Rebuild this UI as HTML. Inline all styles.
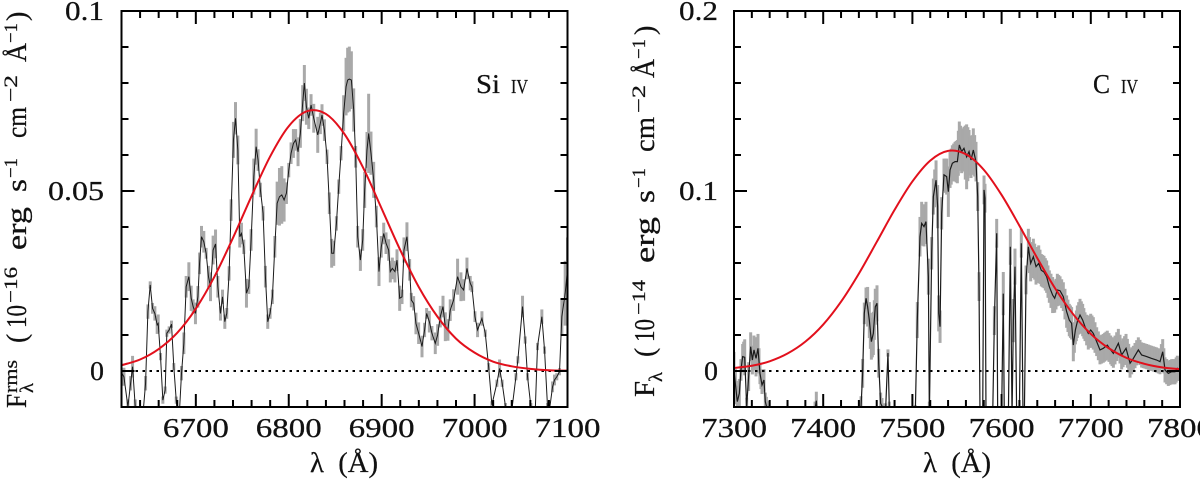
<!DOCTYPE html>
<html lang="en">
<head>
<meta charset="utf-8">
<title>Si IV and C IV line profiles</title>
<style>
html,body{margin:0;padding:0;background:#fff;width:1200px;height:480px;overflow:hidden}
svg{display:block}
text{font-family:"Liberation Serif",serif;fill:#111;stroke:#111;stroke-width:0.25px}
</style>
</head>
<body>
<svg id="chart" width="1200" height="480" viewBox="0 0 1200 480" xmlns="http://www.w3.org/2000/svg">
<defs>
<clipPath id="clipL"><rect x="121.5" y="11" width="446" height="396"/></clipPath>
<clipPath id="clipR"><rect x="734" y="11" width="446" height="396"/></clipPath>
</defs>
<g id="panelL"></g>
<g id="panelR"></g>

<g transform="translate(26,408) rotate(-90)">
<text x="0" y="0" font-size="28" textLength="14" lengthAdjust="spacingAndGlyphs">F</text>
<text x="15" y="-9" font-size="19" textLength="33" lengthAdjust="spacingAndGlyphs">rms</text>
<text x="15" y="7" font-size="19" textLength="10" lengthAdjust="spacingAndGlyphs">λ</text>
<text x="65" y="0" font-size="28">(</text>
<text x="80" y="0" font-size="28" textLength="23" lengthAdjust="spacingAndGlyphs">10</text>
<text x="105" y="-9" font-size="19" textLength="36" lengthAdjust="spacingAndGlyphs">−16</text>
<text x="158" y="0" font-size="28" textLength="43" lengthAdjust="spacingAndGlyphs">erg</text>
<text x="216" y="0" font-size="28" textLength="13" lengthAdjust="spacingAndGlyphs">s</text>
<text x="230" y="-9" font-size="19" textLength="20" lengthAdjust="spacingAndGlyphs">−1</text>
<text x="270" y="0" font-size="28" textLength="31" lengthAdjust="spacingAndGlyphs">cm</text>
<text x="306" y="-9" font-size="19" textLength="27" lengthAdjust="spacingAndGlyphs">−2</text>
<text x="346" y="0" font-size="28" textLength="19" lengthAdjust="spacingAndGlyphs">Å</text>
<text x="365" y="-9" font-size="19" textLength="20" lengthAdjust="spacingAndGlyphs">−1</text>
<text x="387" y="0" font-size="28">)</text>
</g>

<g transform="translate(654,397) rotate(-90)">
<text x="0" y="0" font-size="28" textLength="16" lengthAdjust="spacingAndGlyphs">F</text>
<text x="15" y="8" font-size="19" textLength="10" lengthAdjust="spacingAndGlyphs">λ</text>
<text x="40" y="0" font-size="28">(</text>
<text x="55" y="0" font-size="28" textLength="23" lengthAdjust="spacingAndGlyphs">10</text>
<text x="82" y="-9" font-size="19" textLength="35" lengthAdjust="spacingAndGlyphs">−14</text>
<text x="134" y="0" font-size="28" textLength="46" lengthAdjust="spacingAndGlyphs">erg</text>
<text x="194" y="0" font-size="28" textLength="13" lengthAdjust="spacingAndGlyphs">s</text>
<text x="209" y="-9" font-size="19" textLength="20" lengthAdjust="spacingAndGlyphs">−1</text>
<text x="245" y="0" font-size="28" textLength="35" lengthAdjust="spacingAndGlyphs">cm</text>
<text x="284" y="-9" font-size="19" textLength="28" lengthAdjust="spacingAndGlyphs">−2</text>
<text x="319" y="0" font-size="28" textLength="19" lengthAdjust="spacingAndGlyphs">Å</text>
<text x="338" y="-9" font-size="19" textLength="20" lengthAdjust="spacingAndGlyphs">−1</text>
<text x="362" y="0" font-size="28">)</text>
</g>

<text x="310" y="472" font-size="28" textLength="68" lengthAdjust="spacingAndGlyphs" xml:space="preserve">λ  (Å)</text>
<text x="923" y="472" font-size="28" textLength="68" lengthAdjust="spacingAndGlyphs" xml:space="preserve">λ  (Å)</text>

<text x="476" y="93" font-size="27" textLength="24" lengthAdjust="spacingAndGlyphs">Si</text>
<text x="511" y="93" font-size="20" textLength="17" lengthAdjust="spacingAndGlyphs">IV</text>
<text x="1093" y="93" font-size="27" textLength="17" lengthAdjust="spacingAndGlyphs">C</text>
<text x="1121" y="93" font-size="20" textLength="17" lengthAdjust="spacingAndGlyphs">IV</text>
</svg>

<script>
/* Si IV rms spectrum: wavelength (Angstrom), flux and error (units of 1e-16 scale, times 1000) */
var siWave = [
6619,6622.6,6626.9,6629.8,6631.9,6634.8,6636.9,6642.3,6645.9,6648.4,
6650.9,6653.4,6655.9,6658.4,6659.5,6662,6664.5,6667,6668.8,6671.3,
6673.8,6676.3,6678.9,6681.7,6684.6,6687.1,6689.6,6692.5,6695,6697.1,
6699.6,6702.2,6704,6706.1,6708.6,6711.1,6713.6,6715.8,6718.6,6721.2,
6723.7,6726.5,6728.7,6731.2,6733.3,6735.8,6738,6740.5,6742.7,6745.2,
6747.3,6749.1,6751.6,6754.5,6757,6759.5,6762.4,6764.9,6767,6769.5,
6772.4,6774.9,6777.4,6779.9,6782.4,6785,6787.5,6790,6792.5,6795,
6797.5,6800,6802.5,6805,6807.5,6810,6812.5,6815,6816.8,6819,
6821.5,6824,6826.9,6831.2,6834,6835.8,6838.4,6841.2,6843.7,6846.2,
6848.4,6851.3,6853.8,6856.3,6859.1,6861.7,6863.4,6865.2,6867.4,6869.9,
6872,6874.2,6877.1,6879.6,6881.7,6884.2,6886,6888.5,6891.4,6894.3,
6897.1,6899.6,6902.2,6904.7,6907.5,6909.3,6911.5,6914.3,6916.5,6919.4,
6921.9,6924,6927.2,6930.1,6931.9,6934.4,6936.9,6939.8,6943.4,6946.2,
6948.4,6951.3,6954.1,6957.7,6960.2,6963.1,6966,6968.5,6971.3,6973.8,
6977.4,6981.7,6985.3,6988.2,6991.8,6995.3,6997.1,7000.4,7003.2,7007.9,
7011.5,7015.1,7018.6,7024,7026.9,7029.7,7033.3,7036.6,7040.1,7044.5,
7046.6,7051.6,7054.5,7057,7060.6,7065.2,7067.7,7072.4,7075.3,7078.5,
7080.6,7083.9,7086,7088.5,7091.4,7093.9,7097.5,7100];
var siFlux = [
0,-1.6,-9.9,-3.4,1.2,-9.9,-13.6,-14.5,-3.4,16.5,
23.9,17.4,16,12.8,13.2,4,-8.1,-5.3,10.5,11.4,
13,1.2,-8.1,-14.5,-0.6,7.7,23.4,26.2,20.2,17.9,
16,20.6,29.9,37.3,35.9,32.7,26.2,23.4,33.6,35.3,
23.4,16,20.6,13.7,16,27.1,44.7,64.2,70.2,61.4,
37.3,38.2,34.5,21.6,23.4,36.4,54,62.3,58.6,50.3,
43.8,26.2,13.7,16,20.6,34.5,46.6,48.4,48.9,47.5,
49.4,55.8,60.5,63.2,64.2,60.9,66,74.4,80,73.4,
70.2,73.9,70.2,65.6,68.8,71.1,66.9,59.5,46.6,32.7,
32.7,41,51.2,60.5,71.6,79,80.8,81.1,80.8,72.5,
59.5,37.3,30.8,36.4,50.3,61.4,66,60.5,53.1,42.9,
27.6,34.5,38.2,35.5,33.6,27.6,28.5,27.6,30.8,20.2,
20.6,33.6,37.3,28.1,19.7,18.8,13.2,10.5,6.8,11.4,
16,13.7,10.5,7.7,10,15.1,17.9,12.3,11.4,16.9,
19.7,26.2,23.4,22.5,28.5,24.4,23.4,15.1,11.4,14.6,
10.5,1.2,-9.4,-3.4,0.7,-3.4,-9.9,-14.5,-10.8,-1.6,
3.1,17.9,8.6,-1.6,-9.9,-11.8,6.8,15.1,5.8,-9.9,
-10.8,-4.4,-2.5,-1.6,-0.2,15.1,21.6,28.1];
var siErr = [
3.5,2.5,2,2,3,2,1,1,2,2,
1,1.5,2,2.5,2.5,1,1,1,1,1,
1,1,1,1,2,3,3,4,3.5,2,
3,3,3,3,3,1.5,3,4,4,4,
3,2,2,2,1.5,2,3,5,4.5,4,
3,3,2,4,2,3,5,5,3,2,
2,3,2,1.5,2,3,6,8,8,6,
3,2,3,4,3,4,4,5,5,5,
3,3,4,5,3,3,3,2,3,4,
3.5,2,2,2,5,8,9,9,8,6,
3,3,3,3,5,5,11,6,5,3,
4,3,3,3,3,3,3,3,3,3.5,
2,3.5,4,3,2,2,3,3,3,2,
1.5,3,2,3,3,3,3,4,3,3,
3,5,4,3,3,2,1.5,1.5,2,2,
1,1,1,1,2.5,1,1,1,1,1,
1,3,1,1,1,1,1,2,1,1,
1,1.5,1.5,1,1,5,9,9];
var siFitWave = [6620,6640,6660,6680,6700,6720,6740,6760,6780,6800,6820,6840,6860,6880,6900,6920,6940,6960,6980,7000,7020,7040,7060,7080,7100];
var siFitFlux = [1.6,3.2,6.1,10.6,17.3,26.2,37,48.6,59.6,68,72.2,71.4,65.8,56.5,45.1,33.6,23.3,15.1,9,5.1,2.6,1.3,0.6,0.2,0.1];
var siXLabels = ["6700","6800","6900","7000","7100"];
var siYLabels = ["0","0.05","0.1"];

/* C IV spectrum: wavelength (Angstrom), flux and error (times 1000) */
var cWave = [
7300,7301.5,7303.7,7306,7307.8,7309.7,7312,7314.2,7316.4,7318.7,
7320.6,7322.4,7324.7,7326.9,7329.1,7331.4,7333.6,7335.1,7337.4,7345,
7388,7392.3,7394,7442.4,7444.2,7446.1,7448,7449.8,7451.7,7454,
7456.2,7458.4,7460.3,7462.2,7464.4,7467.4,7470,7472.6,7474.1,7503.3,
7505.5,7508.5,7510.4,7513,7515.2,7517.9,7519,7521.6,7523.5,7526.5,
7528.3,7529.5,7531,7532.8,7535.4,7538.4,7540.3,7542.2,7544.8,7547.8,
7550.4,7552.6,7555.2,7557.8,7560.8,7563.5,7565.7,7568.3,7571.3,7573.2,
7574.7,7575.8,7578.8,7580.3,7581.4,7582.5,7590,7591.9,7594.5,7595.6,
7600,7601.9,7603,7607.6,7609.8,7611.7,7613.2,7615,7616.9,7619.9,
7622.1,7624,7625.5,7627.4,7630,7632.6,7635.6,7638.6,7641.6,7644.5,
7647.5,7650.5,7653.5,7657.2,7659.5,7662.5,7665.5,7669.2,7672.9,7675.9,
7678.5,7680.4,7682.7,7684.9,7687.9,7690.9,7693.5,7697.2,7699.9,7702.8,
7706.6,7710.3,7714,7718.5,7722.3,7725.3,7730.9,7734.6,7739.5,7744,
7747.7,7753.3,7757,7762.6,7768.2,7773.8,7777.6,7780.6,7783.2,7786.9,
7790.7,7794.4,7797,7800];
var cFlux = [
0.6,-6.9,-17,-12.4,0.6,8,7.6,-19.8,-3.1,13.5,
6.1,11.7,7,12.6,-1.3,-7.8,-5,-17,-21.7,-30,
-30,-16.5,-30,-20,-1.3,32,40.4,35.7,28.3,16.3,
20.9,35.7,37.6,4.3,-18,-21,-21,10,-20,-22,
28.3,74.6,82,80.2,83,52.4,-25,65.4,96.9,106,
91.3,32,24.6,87.6,109,108,99.6,111.7,115.4,116.3,
116.3,125.6,121.9,123.7,119,121.9,117.2,122.8,116.3,96.9,
46.9,-25,-25,100.6,96,-25,-25,28,76.5,-25,
-25,43,-25,-25,69,-25,28,58,-25,-25,
71,-25,-25,50.6,69,59.8,63.5,58,59.8,56,
55,52.4,46.9,42.2,40.4,45,44.6,41.3,33,28.3,
26.5,14.4,22.8,27.4,31.1,28.3,24.6,20.9,22.8,20.9,
16.3,11.7,12.6,14.4,11.7,9.8,15.4,8.9,12.6,4.3,
7,11.7,8.9,8,7,6.1,5.2,10.7,0.6,-1.3,
-0.4,-0.4,1.5,0.6];
var cErr = [
10,8,5,8,6,7,10,5,8,8,
8,8,10,8,6,5,6,5,5,2,
2,5,2,6,8,6,6,11,10,10,
12,10,10,8,6,3,3,2,3,3,
10,11,12,11,11,10,8,9,10,11,
12,10,9,9,9,10,14,10,10,11,
12,13,12,12,18,12,10,12,11,8,
8,3,3,8,8,3,3,8,8,3,
3,12,3,3,10,3,12,10,3,3,
8,3,3,8,10,10,10,10,10,9,
9,9,9,10,8,9,8,8,9,9,
9,9,8,9,9,9,8,9,9,9,
8,8,8,8,8,8,8,8,8,8,
7,7,7,7,7,7,7,7,7,7,
7,7,7,6];
var cFitWave = [7300,7320,7340,7360,7380,7400,7420,7440,7460,7480,7500,7520,7540,7560,7580,7600,7620,7640,7660,7680,7700,7720,7740,7760,7780,7800];
var cFitFlux = [1.7,2.9,5.4,9.7,16.3,25.8,38.5,54.1,71.7,89.5,105.3,116.9,122.3,120.4,111.8,97.8,80.7,62.7,45.9,31.7,20.6,12.7,7.3,4,2,1];
var cXLabels = ["7300","7400","7500","7600","7700","7800"];
var cYLabels = ["0","0.1","0.2"];

var NS = "http://www.w3.org/2000/svg";

function make(parent, tag, attrs) {
  var el = document.createElementNS(NS, tag);
  for (var k in attrs) el.setAttribute(k, attrs[k]);
  parent.appendChild(el);
  return el;
}

function fmt(v) { return v.toFixed(2); }

function smoothPath(pts) {
  var d = "M" + fmt(pts[0][0]) + " " + fmt(pts[0][1]);
  for (var i = 0; i < pts.length - 1; i++) {
    var p0 = pts[Math.max(i - 1, 0)], p1 = pts[i], p2 = pts[i + 1], p3 = pts[Math.min(i + 2, pts.length - 1)];
    d += "C" + fmt(p1[0] + (p2[0] - p0[0]) / 6) + " " + fmt(p1[1] + (p2[1] - p0[1]) / 6) + " " +
         fmt(p2[0] - (p3[0] - p1[0]) / 6) + " " + fmt(p2[1] - (p3[1] - p1[1]) / 6) + " " +
         fmt(p2[0]) + " " + fmt(p2[1]);
  }
  return d;
}

function drawPanel(g, o) {
  var sx = function (w) { return o.left + (w - o.xmin) * (o.right - o.left) / (o.xmax - o.xmin); };
  var sy = function (f) { return 371 - f * 3.6 * o.yScale; };
  var top = 11, bottom = 407;
  var i, el, x, y;

  var err = make(g, "g", {"clip-path": "url(#" + o.clip + ")", stroke: "#a9a9a9", "stroke-width": 3});
  
  
  function bar(w, f, e) {
    var x = sx(w);
    var b = make(err, "line", {x1: fmt(x), x2: fmt(x), y1: fmt(sy(f - e)), y2: fmt(sy(f + e))});
    
    
  }
  for (i = 0; i < o.wave.length; i++) {
    bar(o.wave[i], o.flux[i], o.err[i]);
    if (o.fillBand && i < o.wave.length - 1) {
      var gap = o.wave[i + 1] - o.wave[i];
      var dF = o.flux[i + 1] - o.flux[i];
      if (gap > 2 && gap < 8 && Math.abs(dF) < 15) {
        var n = Math.ceil(gap / 2);
        for (var s = 1; s < n; s++) {
          var t = s / n;
          bar(o.wave[i] + gap * t, o.flux[i] + dF * t, o.err[i] + (o.err[i + 1] - o.err[i]) * t);
        }
      }
    }
  }

  var zero = make(g, "line", {x1: o.left, x2: o.right, y1: sy(0), y2: sy(0), stroke: "#000", "stroke-width": 2, "stroke-dasharray": "2.5 4.5"});
  
  

  var pts = o.wave.map(function (w, j) { return fmt(sx(w)) + "," + fmt(sy(o.flux[j])); }).join(" ");
  var line = make(g, "polyline", {points: pts, fill: "none", stroke: "#1a1a1a", "stroke-width": o.lineWidth, "clip-path": "url(#" + o.clip + ")"});
  
  

  var fit = make(g, "path", {d: smoothPath(o.fitWave.map(function (w, j) { return [sx(w), sy(o.fitFlux[j])]; })), fill: "none", stroke: "#e2101c", "stroke-width": 2, "clip-path": "url(#" + o.clip + ")"});
  
  

  var ticks = make(g, "g", {stroke: "#000", "stroke-width": 2});
  
  
  for (var w = o.xmin; w <= o.xmax; w += 20) {
    var xMajor = w % 100 === 0;
    var xl = xMajor ? 13 : 7;
    x = sx(w);
    make(ticks, "line", {x1: fmt(x), x2: fmt(x), y1: bottom, y2: bottom - xl});
    make(ticks, "line", {x1: fmt(x), x2: fmt(x), y1: top, y2: top + xl});
  }
  for (var k = -1; k <= 10; k++) {
    var yMajor = k % 5 === 0;
    var yl = yMajor ? 13 : 7;
    y = 371 - k * 36;
    make(ticks, "line", {x1: o.left, x2: o.left + yl, y1: y, y2: y});
    make(ticks, "line", {x1: o.right, x2: o.right - yl, y1: y, y2: y});
  }

  var frame = make(g, "rect", {x: o.left, y: top, width: o.right - o.left, height: bottom - top, fill: "none", stroke: "#000", "stroke-width": 2});
  
  

  o.xLabels.forEach(function (t) {
    var el = make(g, "text", {x: fmt(sx(parseFloat(t))), y: 437, "font-size": 27, "text-anchor": "middle", textLength: 66, lengthAdjust: "spacingAndGlyphs"});
    el.textContent = t;
    
    
  });
  o.yLabels.forEach(function (t, j) {
    var len = t.length === 1 ? 14 : (t.length === 3 ? 39 : 56);
    var el = make(g, "text", {x: o.labelRight - len, y: 380 - j * 180, "font-size": 27, textLength: len, lengthAdjust: "spacingAndGlyphs"});
    el.textContent = t;
    
    
  });
}

drawPanel(document.getElementById("panelL"), {
  left: 121.5, right: 567.5, xmin: 6620, xmax: 7100, yScale: 1, clip: "clipL", lineWidth: 1, fillBand: false,
  wave: siWave, flux: siFlux, err: siErr, fitWave: siFitWave, fitFlux: siFitFlux,
  xLabels: siXLabels, yLabels: siYLabels, labelRight: 104
});
drawPanel(document.getElementById("panelR"), {
  left: 734, right: 1180, xmin: 7300, xmax: 7800, yScale: 0.5, clip: "clipR", lineWidth: 1.2, fillBand: true,
  wave: cWave, flux: cFlux, err: cErr, fitWave: cFitWave, fitFlux: cFitFlux,
  xLabels: cXLabels, yLabels: cYLabels, labelRight: 718
});
</script>
</body>
</html>
